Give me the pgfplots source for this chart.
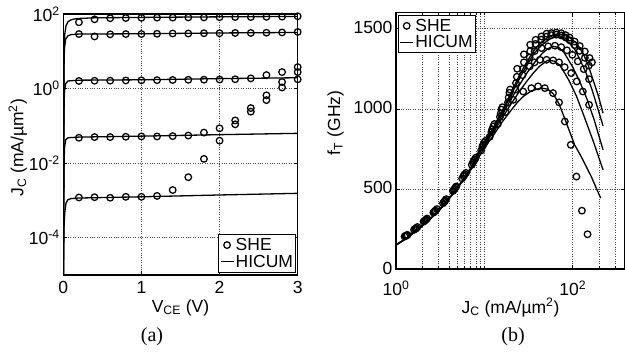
\documentclass[border=0pt]{standalone}
\usepackage{fontspec}
\setmainfont{Liberation Sans}
\newfontfamily\serif{Liberation Serif}
\usepackage{pgfplots}
\pgfplotsset{compat=1.18}
\newcommand\fs{\fontsize{17.5}{20}\selectfont}
\pgfplotsset{
  myax/.style={
    scale only axis,
    axis line style={line width=1.1pt},
    tick align=inside,
    major tick length=4pt, minor tick length=2.5pt,
    tick style={line width=0.6pt, black},
    tick label style={font=\fs},
    xticklabel style={yshift=-3pt},
    label style={font=\fs},
    grid style={dash pattern=on 0.8pt off 1.6pt, line width=0.6pt, black!75},
    minor grid style={dash pattern=on 0.8pt off 1.6pt, line width=0.6pt, black!75},
    legend style={font=\fs, draw=black, line width=1pt, inner xsep=1pt, inner ysep=2pt, row sep=0pt, cells={anchor=west}, nodes={inner xsep=1.5pt, inner ysep=1.5pt}},
  },
  she/.style={only marks, mark=o, mark size=3.3pt, mark options={line width=1.25pt, black, solid}, forget plot},
  hic/.style={black, line width=1.3pt, forget plot, mark=none},
}
\begin{document}
\begin{tikzpicture}
\useasboundingbox (0,0) rectangle (625pt,356pt);
% ---------------- (a)
\begin{axis}[myax, at={(63.3pt,81pt)}, anchor=south west, width=234.4pt, height=261pt,
  xmin=0, xmax=3, ymode=log, ymin=1e-5, ymax=1e2,
  xtick={0,1,2,3}, xticklabels={0,1,2,3},
  ytick={1e-4,1e-2,1,1e2},
  yticklabels={10\textsuperscript{-4},10\textsuperscript{-2},10\textsuperscript{0},10\textsuperscript{2}},
  minor y tick style={draw=none},
  xmajorgrids, ymajorgrids,
  xlabel={V\textsubscript{CE} (V)},
  ylabel={J\textsubscript{C} (mA/µm\textsuperscript{2})},
  xlabel style={at={(axis description cs:0.5,-0.125)}, anchor=center},
  ylabel style={at={(axis description cs:-0.194,0.487)}, anchor=center},
  legend style={at={(0.993,0.009)}, anchor=south east},
  legend image code/.code={\draw[mark repeat=2,mark phase=2,#1] plot coordinates {(0pt,0pt) (6.5pt,0pt) (13pt,0pt)};},
]
\addlegendimage{only marks, mark=o, mark size=3.3pt, mark options={line width=1.25pt}, black}
\addlegendentry{SHE}
\addlegendimage{black, line width=1.3pt}
\addlegendentry{HICUM}
% HICUM
\addplot[hic] coordinates {(0.001,1e-5)(0.01,2e-4)(0.02,5e-4)(0.035,8.5e-4)(0.06,1.05e-3)(0.1,1.12e-3)(0.2,1.16e-3)(1,1.25e-3)(2,1.4e-3)(3,1.55e-3)};
\addplot[hic] coordinates {(0.001,1e-5)(0.008,0.005)(0.015,0.025)(0.03,0.042)(0.06,0.048)(0.2,0.05)(1,0.053)(2,0.058)(3,0.063)};
\addplot[hic] coordinates {(0.001,1e-5)(0.008,0.2)(0.015,0.8)(0.03,1.35)(0.06,1.6)(0.2,1.68)(1,1.72)(2,1.85)(3,1.95)};
\addplot[hic] coordinates {(0.001,1e-5)(0.008,3)(0.015,12)(0.03,21)(0.06,26)(0.1,28)(0.2,29)(1,29.5)(2,31)(3,32)};
\addplot[hic] coordinates {(0.001,1e-5)(0.01,10)(0.02,30)(0.035,48)(0.06,62)(0.1,70)(0.15,74)(0.2,76)(0.4,79)(1,81)(2,84)(3,86)};
% SHE
\addplot[she] coordinates {(0.2,1.2e-3)(0.4,1.22e-3)(0.6,1.18e-3)(0.8,1.25e-3)(1.0,1.25e-3)(1.2,1.32e-3)(1.4,1.9e-3)(1.6,4.2e-3)(1.8,0.013)(2.0,0.040)(2.2,0.11)(2.4,0.24)(2.6,0.49)(2.8,1.07)(3.0,1.77)};
\addplot[she] coordinates {(0.2,0.048)(0.4,0.05)(0.6,0.05)(0.8,0.051)(1.0,0.052)(1.2,0.052)(1.4,0.053)(1.6,0.055)(1.8,0.066)(2.0,0.086)(2.2,0.14)(2.4,0.30)(2.6,0.66)(2.8,1.5)(3.0,2.77)};
\addplot[she] coordinates {(0.2,1.6)(0.4,1.62)(0.6,1.63)(0.8,1.65)(1.0,1.66)(1.2,1.68)(1.4,1.7)(1.6,1.72)(1.8,1.73)(2.0,1.75)(2.2,1.78)(2.4,1.88)(2.6,2.3)(2.8,2.77)(3.0,3.77)};
\addplot[she] coordinates {(0.2,29)(0.4,25)(0.6,28.5)(0.8,29)(1.0,29)(1.2,29.5)(1.4,30)(1.6,30)(1.8,30.5)(2.0,30.5)(2.2,31)(2.4,31)(2.6,31.5)(2.8,32)(3.0,33)};
\addplot[she] coordinates {(0.2,60)(0.4,72)(0.6,77)(0.8,78)(1.0,79)(1.2,80)(1.4,80)(1.6,81)(1.8,81)(2.0,82)(2.2,83)(2.4,83)(2.6,84)(2.8,85)(3.0,87)};
\end{axis}
% ---------------- (b)
\begin{axis}[myax, at={(396pt,87pt)}, anchor=south west, width=229pt, height=256.3pt,
  xmode=log, xmin=1, xmax=390, ymin=0, ymax=1600,
  xtick={1,100}, xticklabels={10\textsuperscript{0},10\textsuperscript{2}},
  xticklabel style={yshift=-5pt},
  minor xtick={2,3,4,5,6,7,8,9,10,200,300},
  ytick={0,500,1000,1500}, yticklabels={0,500,1000,1500},
  yticklabel style={yshift=1pt},
  xmajorgrids, xminorgrids, ymajorgrids,
  xlabel={J\textsubscript{C} (mA/µm\textsuperscript{2})},
  ylabel={f\textsubscript{T} (GHz)},
  xlabel style={at={(axis description cs:0.5,-0.15)}, anchor=center},
  ylabel style={at={(axis description cs:-0.264,0.57)}, anchor=center},
  legend style={at={(0.009,0.991)}, anchor=north west},
  legend image code/.code={\draw[mark repeat=2,mark phase=2,#1] plot coordinates {(0pt,0pt) (6.5pt,0pt) (13pt,0pt)};},
]
\addlegendimage{only marks, mark=o, mark size=3.3pt, mark options={line width=1.25pt}, black}
\addlegendentry{SHE}
\addlegendimage{black, line width=1.3pt}
\addlegendentry{HICUM}
% HICUM
\addplot[hic] coordinates {(1,150)(1.3,190)(1.6,228)(2,272)(2.5,318)(3,360)(4,440)(5,508)(6,565)(7,618)(8,670)(10,755)(12.5,830)(16,920)(20,990)(24,1045)(28,1080)(34,1112)(44,1130)(52,1122)(60,1095)(70,1030)(81,940)(105,775)(125,700)(162,577)(207,442)};
\addplot[hic] coordinates {(1,150)(1.3,190)(1.6,228)(2,272)(2.5,318)(3,360)(4,440)(5,510)(6,570)(7,625)(8,684)(10,775)(12.5,850)(16,945)(20,1030)(25,1110)(30,1170)(36,1225)(42,1265)(52,1303)(62,1298)(72,1270)(90,1180)(110,1080)(135,950)(170,800)(220,619)};
\addplot[hic] coordinates {(1,150)(1.3,190)(1.6,228)(2,272)(2.5,318)(3,360)(4,440)(5,510)(6,570)(7,627)(8,690)(10,783)(12.5,862)(16,965)(20,1060)(25,1150)(30,1220)(37,1290)(45,1345)(52,1375)(60,1390)(70,1382)(80,1350)(100,1260)(120,1170)(145,1060)(175,930)(220,744)};
\addplot[hic] coordinates {(1,150)(1.3,190)(1.6,228)(2,272)(2.5,318)(3,360)(4,440)(5,510)(6,570)(7,628)(8,695)(10,790)(12.5,872)(16,980)(20,1085)(25,1190)(30,1270)(37,1350)(45,1400)(55,1435)(63,1450)(75,1443)(90,1415)(105,1372)(120,1310)(140,1230)(165,1120)(190,1010)(220,894)};
\addplot[hic] coordinates {(1,150)(1.3,190)(1.6,228)(2,272)(2.5,318)(3,360)(4,440)(5,510)(6,570)(7,630)(8,700)(10,795)(12.5,880)(16,990)(20,1100)(25,1210)(30,1290)(37,1370)(45,1420)(55,1455)(68,1468)(80,1462)(95,1440)(110,1410)(130,1350)(150,1270)(170,1180)(195,1080)(220,973)};
% SHE
\addplot[she] coordinates {(1.25,203)(1.6,245)(2.05,296)(2.65,352)(3.4,410)(4.4,487)(5.6,565)(7.2,650)(9.2,740)(11.5,825)(14.2,905)(17.3,980)(21.2,1056)(27.5,1108)(34,1129)(40.5,1140)(48.3,1129)(59.8,1098)(70,1040)(81.3,921)(95,775)(110,577)(127,364)(147,217)};
\addplot[she] coordinates {(1.28,206)(1.65,250)(2.1,300)(2.7,356)(3.5,418)(4.5,494)(5.8,578)(7.4,665)(9.5,765)(12,855)(15,950)(18.5,1040)(22.5,1120)(27,1210)(32.6,1265)(37,1290)(42.4,1306)(50.5,1306)(60,1302)(70,1290)(81,1260)(96,1223)(111,1171)(130,1108)(153,1025)};
\addplot[she] coordinates {(1.3,208)(1.68,253)(2.15,305)(2.75,360)(3.55,423)(4.6,500)(5.9,585)(7.6,675)(9.7,775)(12.2,870)(15.3,970)(18.8,1070)(22.8,1160)(27.5,1250)(32.6,1320)(37,1360)(44.3,1379)(52.7,1390)(62.9,1394)(74,1385)(86,1365)(99,1337)(114,1296)(133,1248)(153,1185)};
\addplot[she] coordinates {(1.32,210)(1.7,256)(2.2,310)(2.8,365)(3.6,428)(4.7,508)(6.0,592)(7.8,685)(10,790)(12.6,890)(15.6,995)(19.2,1100)(23.3,1200)(28,1290)(33,1360)(38,1405)(44,1432)(50,1450)(57,1460)(65,1463)(74,1458)(83,1445)(92,1428)(105,1398)(120,1362)(137,1318)(152,1270)};
\addplot[she] coordinates {(1.35,213)(1.75,262)(2.25,315)(2.9,374)(3.7,436)(4.8,515)(6.2,600)(8,695)(10.3,800)(13,905)(16,1010)(19.5,1120)(23.5,1250)(28,1340)(33,1400)(38,1431)(44.3,1452)(50.5,1469)(57.2,1473)(65,1476)(74,1472)(83,1460)(92,1445)(105,1420)(120,1392)(137,1358)(155,1317)(165,1290)};
\end{axis}
\node[font={\serif\fontsize{20}{22}\selectfont}] at (152pt,19pt) {(a)};
\node[font={\serif\fontsize{20}{22}\selectfont}] at (513pt,19pt) {(b)};
\end{tikzpicture}
\end{document}
